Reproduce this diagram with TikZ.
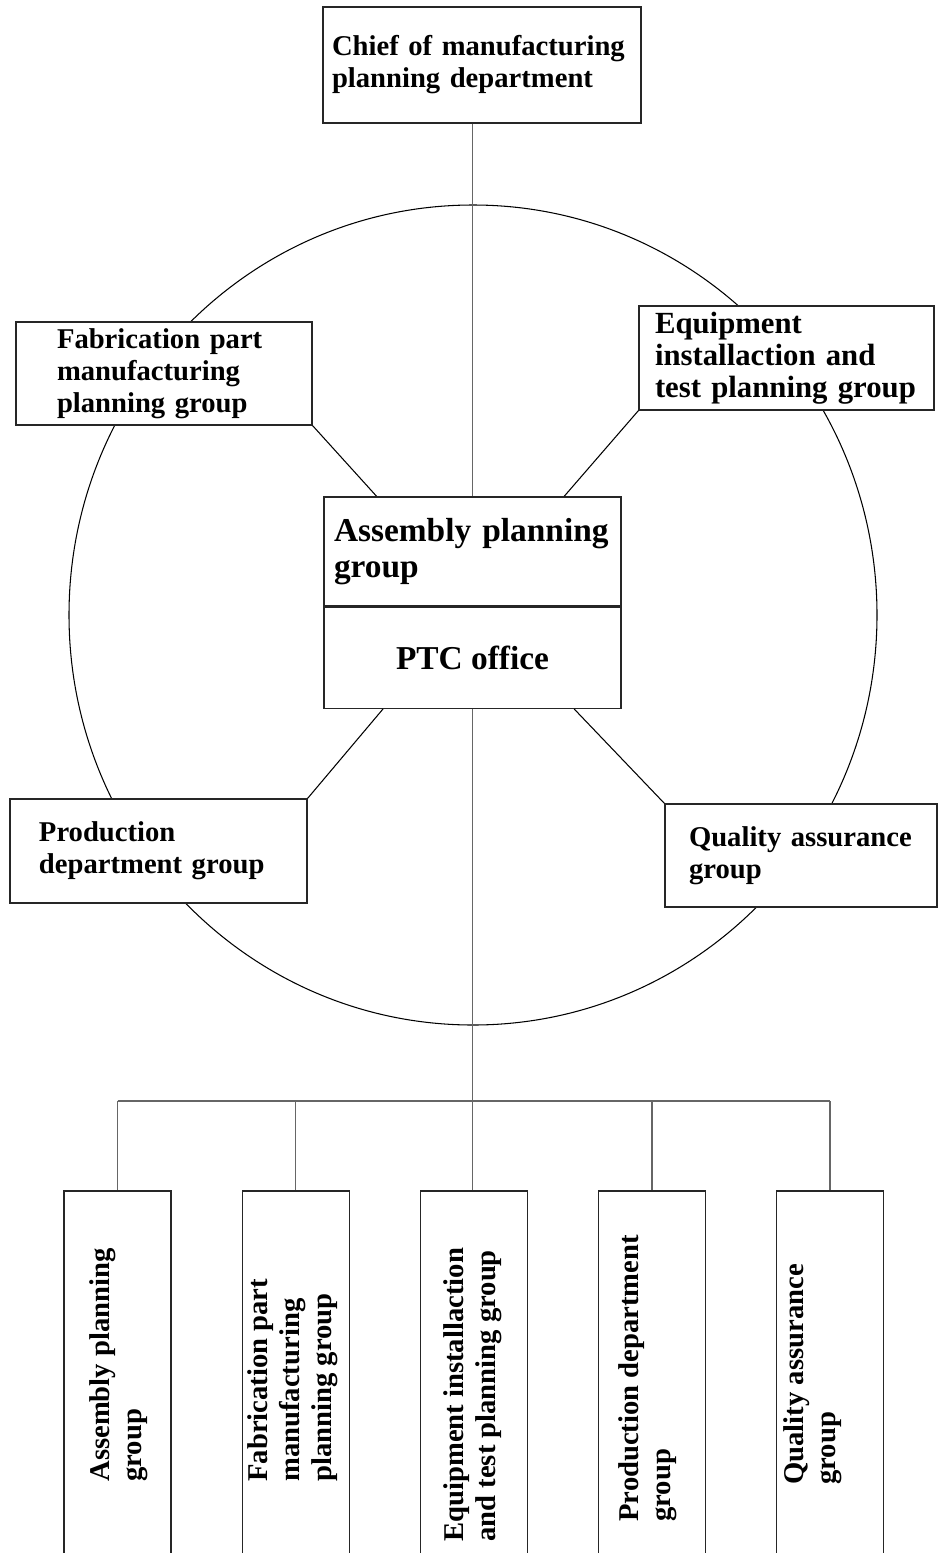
\documentclass[tikz,border=0pt]{standalone}
\usepackage{fontspec}
\setmainfont{Liberation Serif}
\usetikzlibrary{positioning,fit,calc}

\newcommand{\orgfont}{\fontsize{16.3}{18.2}\selectfont\bfseries}
\newcommand{\corefont}{\fontsize{19}{20.5}\selectfont\bfseries}

\tikzset{
  orgbox/.style={draw=black!85, fill=white, line width=0.6pt, align=left, inner ysep=0pt, font=\orgfont},
  tallbox/.style={draw=black!85, fill=white, line width=0.6pt, minimum width=2.14cm, minimum height=7.78cm},
  vlabel/.style={rotate=90, anchor=west, align=left, inner sep=0pt, font=\orgfont},
  link/.style={black, line width=0.6pt},
  trunk/.style={black!60, line width=0.9pt},
}

\begin{document}
\begin{tikzpicture}
  \useasboundingbox (0,0) rectangle (18.9,-31.06);
  % The ring behind the groups
  \draw[link] (9.46,-12.30) ellipse [x radius=8.08, y radius=8.20];
  % Chief and the centre box
  \node[orgbox, minimum width=6.36cm, minimum height=2.32cm, inner xsep=0.18cm, text width=6.00cm] (chief) at (9.64,-1.30)
    {Chief of manufacturing\\planning department};
  \node[orgbox, font=\corefont, minimum width=5.94cm, minimum height=2.18cm, inner xsep=0.20cm, text width=5.54cm] (apg) at (9.45,-11.03)
    {Assembly planning\\group};
  \node[orgbox, font=\corefont, minimum width=5.94cm, minimum height=2.02cm, below=0pt of apg] (ptc) {PTC office};
  \node[fit=(apg)(ptc), inner sep=0pt] (core) {};
  % The four groups on the ring
  \node[orgbox, minimum width=5.92cm, minimum height=2.06cm, inner xsep=0.82cm, text width=4.28cm] (fab) at (3.28,-7.47)
    {Fabrication part\\manufacturing\\planning group};
  \node[orgbox, font={\fontsize{17.5}{18.2}\selectfont\bfseries}, minimum width=5.90cm, minimum height=2.08cm, inner xsep=0.32cm, text width=5.26cm] (equip) at (15.73,-7.16)
    {Equipment\\installaction and\\test planning group};
  \node[orgbox, minimum width=5.94cm, minimum height=2.08cm, inner xsep=0.58cm, text width=4.78cm] (prod) at (3.17,-17.02)
    {Production\\department group};
  \node[orgbox, minimum width=5.44cm, minimum height=2.06cm, inner xsep=0.48cm, text width=4.48cm] (quality) at (16.02,-17.11)
    {Quality assurance\\group};
  % Links to the centre box
  \draw[link] (fab.south east) -- (core);
  \draw[link] (equip.south west) -- (core);
  \draw[link] (prod.north east) -- (core);
  \draw[link] (quality.north west) -- (core);
  % The tall boxes at the bottom
  \foreach \i in {1,...,5}
  {
    \node[tallbox] (b\i) at ({2.35+(\i-1)*3.5625},-27.71) {};
  }
  \node[vlabel] (t1) at (2.38,-29.64) {Assembly planning\\group};
  \node[vlabel] (t2) at (5.86,-29.64) {Fabrication part\\manufacturing\\planning group};
  \node[vlabel] (t3) at (9.46,-30.84) {Equipment installaction\\and test planning group};
  \node[vlabel] (t4) at (12.96,-30.44) {Production department\\group};
  \node[vlabel] (t5) at (16.26,-29.70) {Quality assurance\\group};
  % The tree
  \coordinate (bus) at (9.45,-22.02);
  \draw[trunk] (core.north |- chief.south) -- (core.north);
  \draw[trunk] (core.south) -- (core.south |- b3.north);
  \draw[trunk] (b1.north |- bus) -- (b5.north |- bus);
  \foreach \b in {b1,b2,b4,b5}
  {
    \draw[trunk] (\b.north |- bus) -- (\b.north);
  }
\end{tikzpicture}
\end{document}
